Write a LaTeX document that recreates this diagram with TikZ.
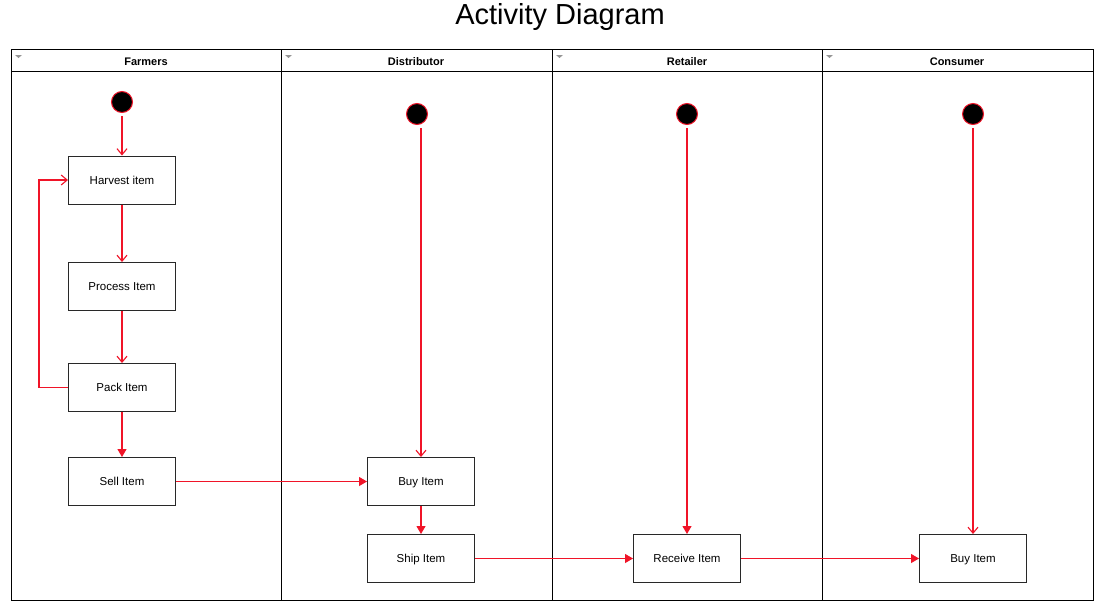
\documentclass[tikz,border=0pt]{standalone}
\usepackage{fontspec}
\setmainfont{Liberation Sans}
\usetikzlibrary{arrows.meta}
\definecolor{flow}{RGB}{240,20,40}
\definecolor{boxline}{RGB}{40,40,40}
\definecolor{marker}{RGB}{150,150,150}
\begin{document}
\begin{tikzpicture}[x=1pt,y=-1pt,
  act/.style={draw=boxline,line width=1pt,fill=white,minimum width=107pt,minimum height=48pt,inner sep=0pt,text height=9.5pt,text depth=1.5pt,font=\fontsize{11.5}{13}\selectfont},
  init/.style={circle,fill=black,draw=flow,line width=1pt,minimum size=21pt,inner sep=0pt},
  openflow/.style={draw=flow,line width=1.1pt,-{Straight Barb[length=6pt,width=10pt]}},
  fillflow/.style={draw=flow,line width=1.1pt,-{Triangle[length=8pt,width=9pt]}},
  fromstart/.style={shorten <=3pt},
  lanehead/.style={font=\bfseries\fontsize{11}{13}\selectfont,text height=9pt,text depth=1pt},
  lane/.style={draw=black,line width=1pt}
]
\useasboundingbox (0,0) rectangle (1112,616);
\fill[white] (0,0) rectangle (1112,616);

\node (title) at (560,17.5) {\fontsize{29}{32}\selectfont Activity Diagram};

% pool
\draw[lane] (11,49) rectangle (1093,600);
\draw[lane] (11,71) -- (1093,71);
\draw[lane] (281,49) -- (281,600);
\draw[lane] (552,49) -- (552,600);
\draw[lane] (822,49) -- (822,600);

\node[lanehead] (h1) at (146,61.5) {Farmers};
\node[lanehead] (h2) at (416,61.5) {Distributor};
\node[lanehead] (h3) at (687,61.5) {Retailer};
\node[lanehead] (h4) at (957,61.5) {Consumer};

\foreach \lx in {11,281,552,822}{
  \fill[marker] (\lx+4,55) -- (\lx+11,55) -- (\lx+7.5,58) -- cycle;
}

% initial nodes
\node[init] (i1) at (122,102) {};
\node[init] (i2) at (417,114) {};
\node[init] (i3) at (687,114) {};
\node[init] (i4) at (973,114) {};

% activities
\node[act] (harvest) at (122,180) {Harvest item};
\node[act] (process) at (122,286.5) {Process Item};
\node[act] (pack) at (122,387.5) {Pack Item};
\node[act] (sell) at (122,481.5) {Sell Item};
\node[act] (buyd) at (421,481.5) {Buy Item};
\node[act] (ship) at (421,558.5) {Ship Item};
\node[act] (receive) at (687,558.5) {Receive Item};
\node[act] (buyc) at (973,558.5) {Buy Item};

% flows
\draw[openflow,fromstart] (i1) -- (harvest);
\draw[openflow] (harvest) -- (process);
\draw[openflow] (process) -- (pack);
\draw[fillflow] (pack) -- (sell);
\draw[openflow] (pack.west) -- ++(-29,0) |- (harvest.west);
\draw[fillflow] (sell) -- (buyd);
\draw[openflow,fromstart] (i2.south -| buyd.north) -- (buyd);
\draw[fillflow] (buyd) -- (ship);
\draw[fillflow] (ship) -- (receive);
\draw[fillflow,fromstart] (i3) -- (receive);
\draw[fillflow] (receive) -- (buyc);
\draw[openflow,fromstart] (i4) -- (buyc);
\end{tikzpicture}
\end{document}
